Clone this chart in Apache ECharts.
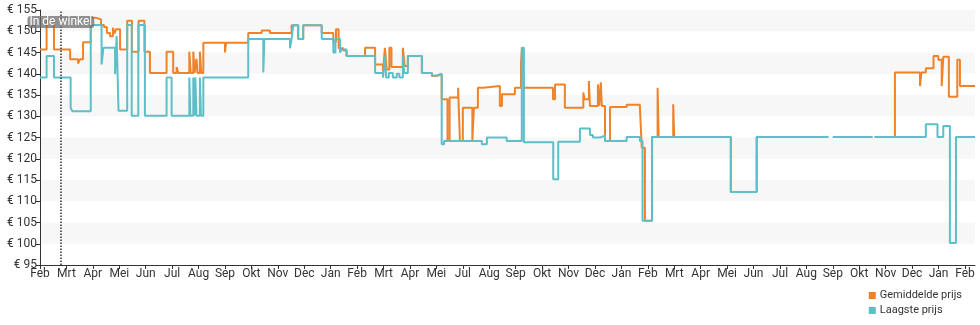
<!DOCTYPE html>
<html><head><meta charset="utf-8">
<script src="https://cdn.jsdelivr.net/npm/echarts@6/dist/echarts.min.js"></script>
<style>html,body{margin:0;padding:0;background:#fff}#c{width:980px;height:325px}</style>
</head><body><div id="c"></div>
<script>
// x values are in axis-tick units (one unit per tick on the time axis)
var tickLabels = ['Feb','Mrt','Apr','Mei','Jun','Jul','Aug','Sep','Okt','Nov','Dec','Jan',
  'Feb','Mrt','Apr','Mei','Jul','Aug','Sep','Okt','Nov','Dec','Jan',
  'Feb','Mrt','Apr','Mei','Jun','Jul','Aug','Sep','Okt','Nov','Dec','Jan','Feb'];
var xEnd = 35.38;
var storeMark = 0.79;
var seriesNames = ['Gemiddelde prijs', 'Laagste prijs'];

var gemiddelde = [
 [0,145.7],[0.25,152.4],[0.53,145.7],[1.14,143.4],[1.44,142.4],[1.51,143.4],[1.63,147.4],
 [1.92,153.2],[2.10,152.8],[2.31,151.5],[2.42,151.0],[2.53,149.6],[2.65,148.8],[2.76,150.8],
 [2.82,149.5],[2.88,150.5],[3.03,145.7],[3.30,152.5],[3.48,145.2],[3.73,152.5],[3.95,145.2],
 [4.16,140.2],[4.79,145.2],[5.04,140.2],[5.17,141.6],[5.23,140.2],
 [5.65,145.2],[5.70,140.2],[5.80,145.2],[5.85,140.2],[5.92,143.5],[5.96,140.2],[6.05,145.2],[6.10,140.2],
 [6.18,147.3],[7.00,145.0],[7.04,147.3],[7.88,149.6],[8.39,150.2],[8.70,149.6],[9.52,151.4],
 [9.77,148.2],[9.96,151.4],[10.66,149.6],[11.10,147.5],[11.20,150.5],[11.30,146.0],[11.48,145.5],
 [11.60,144.2],[12.30,146.1],[12.68,142.2],[12.98,140.5],[13.05,146.1],[13.12,141.0],[13.22,146.1],
 [13.30,141.6],[13.73,146.1],[13.80,141.8],[13.92,144.2],[14.45,140.2],[14.83,139.5],[15.02,139.8],
 [15.20,134.0],[15.42,124.2],[15.50,134.4],[15.82,136.7],[15.89,124.2],[16.00,132.0],[16.36,124.2],
 [16.42,132.0],[16.57,136.7],[16.76,137.1],[17.40,132.4],[17.48,135.2],[17.97,136.7],[18.20,142.6],
 [18.24,146.1],[18.31,136.7],[19.41,134.0],[19.49,137.5],[19.86,132.0],[20.56,135.6],[20.60,134.0],
 [20.77,138.3],[20.81,132.4],[21.11,137.5],[21.16,132.4],[21.22,138.0],[21.26,132.4],[21.38,124.2],
 [21.57,132.2],[22.20,132.7],[22.70,132.2],[22.77,122.6],[22.89,105.4],[23.16,125.1],[23.37,136.7],
 [23.41,125.1],[23.96,132.8],[24.00,125.1],[26.14,112.2],[27.12,125.1],[29.83,125.1],[29.85,null],
 [30.00,125.1],[31.50,125.1],[31.52,null],[31.58,125.1],[32.35,140.3],[33.30,137.1],[33.35,140.3],
 [33.52,141.3],[33.81,144.2],[33.99,143.3],[34.12,137.1],[34.18,144.0],[34.39,134.6],[34.71,143.3],
 [34.81,137.1],[35.38,137.1]
];

var laagste = [
 [0,139.1],[0.25,144.2],[0.53,139.1],[1.16,132.0],[1.22,131.2],[1.92,151.5],[2.33,142.2],[2.40,146.1],
 [2.84,139.9],[2.90,148.9],[2.97,131.3],[3.30,151.5],[3.47,130.1],[3.72,151.5],[3.97,130.1],
 [4.79,139.1],[4.98,130.1],
 [5.65,139.1],[5.69,130.1],[5.80,139.1],[5.84,130.1],[5.88,139.1],[5.92,130.1],[6.05,139.1],[6.09,130.1],
 [6.18,139.1],[7.88,148.2],[8.45,140.3],[8.49,148.2],[9.46,146.0],[9.52,148.2],[9.58,151.4],[9.77,148.2],
 [9.96,151.4],[10.66,148.2],[11.10,145.0],[11.18,148.2],[11.35,145.0],[11.42,145.7],[11.60,144.2],
 [12.68,140.2],[12.98,139.1],[13.05,144.2],[13.10,139.1],[13.20,140.2],[13.35,139.1],[13.50,140.0],
 [13.60,139.1],[13.73,144.2],[13.78,140.2],[13.92,144.2],[14.45,140.2],[14.83,139.6],[15.02,140.0],
 [15.20,123.4],[15.29,124.2],[16.72,123.4],[16.91,125.0],[17.66,124.2],[18.23,146.1],[18.31,123.9],
 [19.42,115.2],[19.61,124.0],[20.43,127.1],[20.81,125.6],[20.92,125.0],[21.19,125.4],[21.38,124.2],
 [22.20,125.1],[22.70,124.2],[22.80,105.4],[23.16,125.1],[26.14,112.2],[27.12,125.1],[29.83,125.1],
 [29.85,null],[30.00,125.1],[31.50,125.1],[31.52,null],[31.58,125.1],[33.52,128.1],[33.96,125.1],
 [34.18,127.7],[34.43,100.2],[34.66,125.1],[35.38,125.1]
];

var tickIdx = tickLabels.map(function(_, i){ return i; });
var chart = echarts.init(document.getElementById('c'));
var font = 'Roboto, "Noto Sans", sans-serif';
chart.setOption({
  animation: false,
  textStyle: { fontFamily: font },
  grid: { left: 40, right: 5, top: 10, bottom: 60 },
  legend: {
    orient: 'vertical', right: 18, top: 290, itemGap: 4, itemWidth: 7, itemHeight: 7, padding: 0,
    icon: 'rect', textStyle: { fontSize: 11, color: '#333', fontFamily: font, padding: [0, 0, 0, -1] },
    data: seriesNames
  },
  xAxis: {
    type: 'value', min: 0, max: xEnd,
    axisLine: { lineStyle: { color: '#333' } },
    axisTick: { length: 4, customValues: tickIdx, lineStyle: { color: '#333' } },
    axisLabel: { customValues: tickIdx, margin: 3, fontSize: 12, color: '#333',
      formatter: function(v){ return tickLabels[Math.round(v)] || ''; } },
    splitLine: { show: false }
  },
  yAxis: {
    type: 'value', min: 95, max: 155, interval: 5,
    axisLine: { show: true, lineStyle: { color: '#333' } },
    axisTick: { show: true, length: 4, lineStyle: { color: '#333' } },
    axisLabel: { margin: 3, fontSize: 12, color: '#333', formatter: function(v){ return '€ ' + v; } },
    splitLine: { show: false },
    splitArea: { show: true, areaStyle: { color: ['rgba(255,255,255,0)', '#f7f7f7'] } }
  },
  series: [
    { name: seriesNames[0], type: 'line', step: 'end', data: gemiddelde, showSymbol: false,
      connectNulls: false, lineStyle: { width: 2, color: '#f08228' }, itemStyle: { color: '#f08228' },
      markLine: {
        silent: true, symbol: ['none','none'],
        lineStyle: { type: 'dotted', color: '#333', width: 1.5 },
        label: { show: true, position: 'end', distance: -18, formatter: 'In de winkel',
          color: '#fff', fontSize: 12, backgroundColor: 'rgba(110,110,110,0.75)',
          padding: [0, 2], borderRadius: 3, fontFamily: font },
        data: [{ xAxis: storeMark }]
      }
    },
    { name: seriesNames[1], type: 'line', step: 'end', data: laagste, showSymbol: false,
      connectNulls: false, lineStyle: { width: 2, color: '#5dbfc8' }, itemStyle: { color: '#5dbfc8' } }
  ]
});
</script>
</body></html>
